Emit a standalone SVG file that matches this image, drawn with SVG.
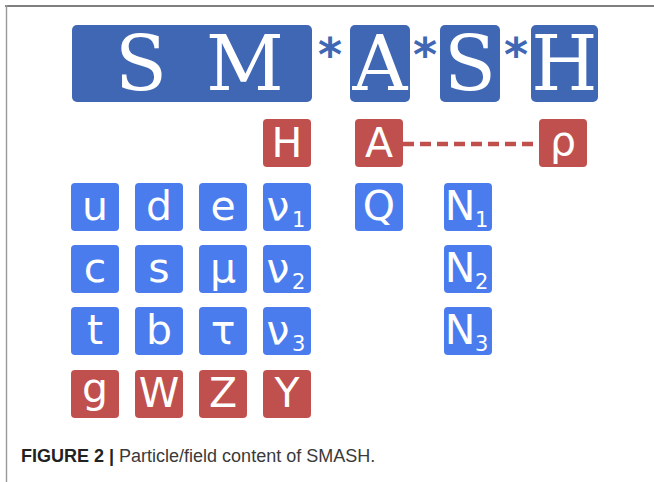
<svg xmlns="http://www.w3.org/2000/svg" width="654" height="482" viewBox="0 0 654 482">
<style>
.big{fill:#3F67B4}
.b{fill:#4A7CEE}
.r{fill:#C0504D}
.bt{font-family:"DejaVu Serif",serif;font-size:76px;fill:#fff;text-anchor:middle}
.ast{font-family:"DejaVu Sans",sans-serif;font-size:46px;font-weight:bold;fill:#3F67B4;text-anchor:middle}
.t{font-family:"DejaVu Sans",sans-serif;font-size:41px;fill:#fff;text-anchor:middle}
.s{font-family:"DejaVu Sans",sans-serif;font-size:21px;fill:#fff}
.cap{font-family:"Liberation Sans",Arial,sans-serif;font-size:18px;fill:#3a3a3a}
</style>
<rect width="654" height="482" fill="#fff"/>
<line x1="5" y1="6" x2="654" y2="6" stroke="#555" stroke-width="1.6"/>
<line x1="6.5" y1="5" x2="6.5" y2="482" stroke="#999" stroke-width="1.4"/>

<g id="title">
<rect class="big" x="72" y="25" width="240" height="77" rx="5"/>
<text class="bt" x="141" y="90">S</text>
<text class="bt" x="245" y="90">M</text>
<text class="ast" x="330" y="71">*</text>
<rect class="big" x="350" y="25" width="60" height="77" rx="5"/>
<text class="bt" x="380" y="90">A</text>
<text class="ast" x="425" y="71">*</text>
<rect class="big" x="440" y="25" width="60" height="77" rx="5"/>
<text class="bt" x="470" y="90">S</text>
<text class="ast" x="516" y="71">*</text>
<rect class="big" x="531" y="25" width="67" height="77" rx="5"/>
<text class="bt" x="564.5" y="90">H</text>
</g>

<g id="connectors">
<line x1="403" y1="144" x2="539" y2="144" stroke="#C0504D" stroke-width="4.5" stroke-dasharray="11,6"/>
</g>

<g id="H"><rect class="r" x="263" y="119" width="48" height="48" rx="4"/><text class="t" x="287" y="157">H</text></g>
<g id="Aa"><rect class="r" x="355" y="119" width="48" height="48" rx="4"/><text class="t" x="379" y="157">A</text></g>
<g id="rho"><rect class="r" x="539" y="119" width="48" height="48" rx="4"/><text class="t" x="563" y="155">ρ</text></g>

<g id="u"><rect class="b" x="71" y="183" width="48" height="48" rx="4"/><text class="t" x="95" y="220">u</text></g>
<g id="d"><rect class="b" x="135" y="183" width="48" height="48" rx="4"/><text class="t" x="159" y="220">d</text></g>
<g id="e"><rect class="b" x="199" y="183" width="48" height="48" rx="4"/><text class="t" x="223" y="220">e</text></g>
<g id="nu1"><rect class="b" x="263" y="183" width="48" height="48" rx="4"/><text class="t" x="278" y="220">ν</text><text class="s" x="292" y="227">1</text></g>
<g id="Q"><rect class="b" x="355" y="183" width="48" height="48" rx="4"/><text class="t" x="379" y="220">Q</text></g>
<g id="N1"><rect class="b" x="444" y="183" width="48" height="48" rx="4"/><text class="t" x="460" y="220">N</text><text class="s" x="475" y="227">1</text></g>

<g id="c"><rect class="b" x="71" y="245" width="48" height="48" rx="4"/><text class="t" x="95" y="282">c</text></g>
<g id="s"><rect class="b" x="135" y="245" width="48" height="48" rx="4"/><text class="t" x="159" y="282">s</text></g>
<g id="mu"><rect class="b" x="199" y="245" width="48" height="48" rx="4"/><text class="t" x="223" y="282">μ</text></g>
<g id="nu2"><rect class="b" x="263" y="245" width="48" height="48" rx="4"/><text class="t" x="278" y="282">ν</text><text class="s" x="292" y="289">2</text></g>
<g id="N2"><rect class="b" x="444" y="245" width="48" height="48" rx="4"/><text class="t" x="460" y="282">N</text><text class="s" x="475" y="289">2</text></g>

<g id="t"><rect class="b" x="71" y="307" width="48" height="48" rx="4"/><text class="t" x="95" y="344">t</text></g>
<g id="b"><rect class="b" x="135" y="307" width="48" height="48" rx="4"/><text class="t" x="159" y="344">b</text></g>
<g id="tau"><rect class="b" x="199" y="307" width="48" height="48" rx="4"/><text class="t" x="223" y="344">τ</text></g>
<g id="nu3"><rect class="b" x="263" y="307" width="48" height="48" rx="4"/><text class="t" x="278" y="344">ν</text><text class="s" x="292" y="351">3</text></g>
<g id="N3"><rect class="b" x="444" y="307" width="48" height="48" rx="4"/><text class="t" x="460" y="344">N</text><text class="s" x="475" y="351">3</text></g>

<g id="g"><rect class="r" x="71" y="370" width="48" height="48" rx="4"/><text class="t" x="95" y="402">g</text></g>
<g id="W"><rect class="r" x="135" y="370" width="48" height="48" rx="4"/><text class="t" x="159" y="407">W</text></g>
<g id="Z"><rect class="r" x="199" y="370" width="48" height="48" rx="4"/><text class="t" x="223" y="407">Z</text></g>
<g id="gamma"><rect class="r" x="263" y="370" width="48" height="48" rx="4"/><text class="t" x="287" y="407">Υ</text></g>

<text class="cap" x="21" y="462"><tspan font-weight="bold" fill="#222">FIGURE 2 |</tspan> Particle/field content of SMASH.</text>
</svg>
